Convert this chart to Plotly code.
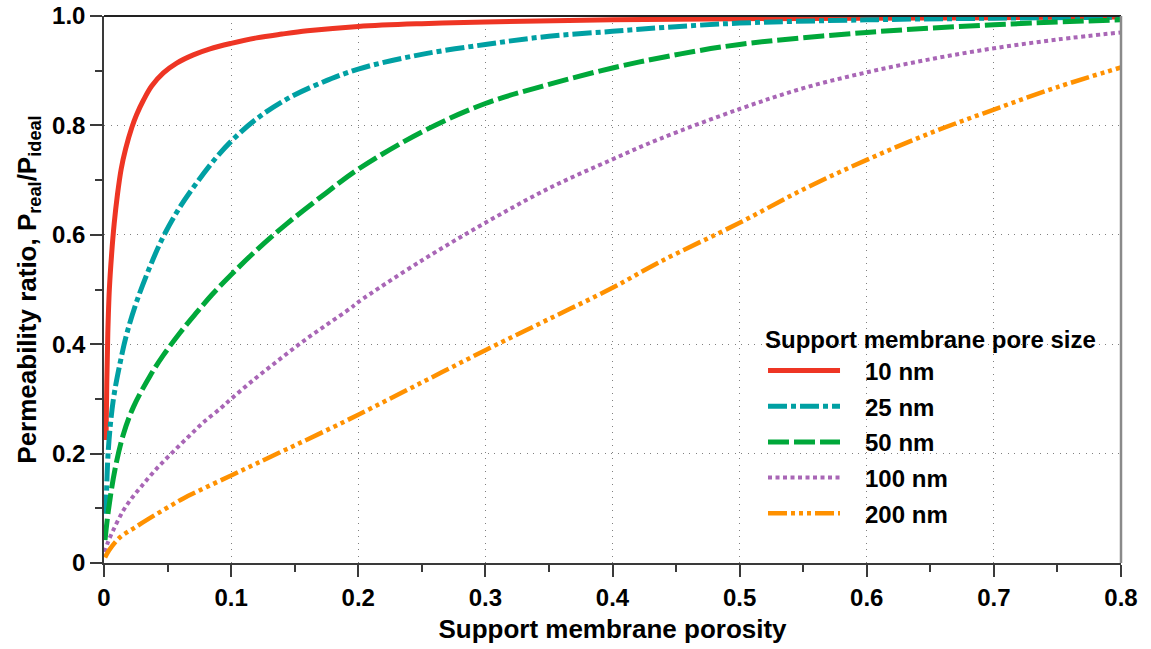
import plotly.graph_objects as go

# ---------------- data ----------------
pore_sizes = ["10 nm", "25 nm", "50 nm", "100 nm", "200 nm"]

porosity_10nm = [0.0016, 0.0022, 0.003, 0.0042, 0.006, 0.008, 0.0105, 0.0135, 0.017,
                 0.022, 0.0257, 0.031, 0.0375, 0.0467, 0.0572, 0.0703, 0.0834, 0.1,
                 0.12, 0.14, 0.16, 0.2, 0.25, 0.3, 0.4, 0.5, 0.6, 0.7, 0.8]
ratio_10nm = [0.225, 0.33, 0.42, 0.50, 0.565, 0.62, 0.672, 0.72, 0.757,
              0.797, 0.82, 0.846, 0.872, 0.896, 0.914, 0.929, 0.94, 0.95,
              0.96, 0.967, 0.973, 0.981, 0.986, 0.989, 0.993, 0.995, 0.996, 0.997, 0.998]

porosity_25nm = [0.0016, 0.0034, 0.0073, 0.0126, 0.0178, 0.0257, 0.0362, 0.0467, 0.0598,
                 0.0729, 0.0886, 0.1018, 0.12, 0.1437, 0.17, 0.2, 0.248, 0.3, 0.35, 0.4,
                 0.44, 0.5, 0.6, 0.7, 0.8]
ratio_25nm = [0.09, 0.207, 0.298, 0.365, 0.418, 0.478, 0.542, 0.597, 0.651,
              0.695, 0.742, 0.775, 0.812, 0.848, 0.877, 0.903, 0.929, 0.948, 0.963, 0.972,
              0.979, 0.987, 0.993, 0.996, 0.998]

porosity_50nm = [0.0008, 0.0034, 0.0087, 0.0152, 0.0231, 0.0362, 0.0467, 0.0598, 0.0729,
                 0.0847, 0.1, 0.12, 0.1437, 0.175, 0.2, 0.25, 0.3, 0.35, 0.4, 0.445,
                 0.5, 0.6, 0.7, 0.8]
ratio_50nm = [0.042, 0.095, 0.172, 0.235, 0.285, 0.342, 0.38, 0.421, 0.458,
              0.49, 0.527, 0.572, 0.62, 0.677, 0.72, 0.788, 0.84, 0.875, 0.905, 0.927,
              0.948, 0.970, 0.984, 0.993]

porosity_100nm = [0.0008, 0.0026, 0.0073, 0.0152, 0.022, 0.0294, 0.0404, 0.0525, 0.0656,
                  0.0782, 0.0918, 0.1, 0.1183, 0.1369, 0.1553, 0.1741, 0.1935, 0.2, 0.25,
                  0.3, 0.35, 0.4, 0.4368, 0.5, 0.55, 0.6, 0.65, 0.7, 0.75, 0.8]
ratio_100nm = [0.02, 0.035, 0.06, 0.096, 0.119, 0.14, 0.17, 0.199, 0.229,
               0.257, 0.283, 0.30, 0.336, 0.37, 0.403, 0.434, 0.465, 0.477, 0.553,
               0.622, 0.685, 0.738, 0.775, 0.83, 0.868, 0.897, 0.921, 0.941, 0.957, 0.970]

porosity_200nm = [0.0008, 0.0042, 0.0126, 0.023, 0.036, 0.049, 0.0624, 0.0755, 0.1, 0.12,
                  0.1437, 0.17, 0.2, 0.25, 0.3, 0.35, 0.4, 0.4368, 0.5, 0.55, 0.6, 0.65,
                  0.7, 0.75, 0.8]
ratio_200nm = [0.01, 0.024, 0.047, 0.063, 0.082, 0.10, 0.118, 0.133, 0.16, 0.182,
               0.208, 0.237, 0.271, 0.33, 0.389, 0.446, 0.503, 0.55, 0.622, 0.683, 0.737, 0.786,
               0.829, 0.87, 0.906]

x_tick_values = [0, 0.1, 0.2, 0.3, 0.4, 0.5, 0.6, 0.7, 0.8]
x_tick_labels = ["0", "0.1", "0.2", "0.3", "0.4", "0.5", "0.6", "0.7", "0.8"]
y_tick_values = [0, 0.2, 0.4, 0.6, 0.8, 1.0]
y_tick_labels = ["0", "0.2", "0.4", "0.6", "0.8", "1.0"]

# ---------------- styles ----------------
colors = ["#EE3524", "#00A0A3", "#00A83A", "#A966B6", "#FF9100"]
dashes = ["solid", "19px,4px,5px,4px", "21px,5px", "4px,3.5px",
          "19px,4px,4px,4px,4px,4px,4px,4px"]
widths = [5, 5, 5, 4, 4.5]

FONT = "Liberation Sans, Arial, Helvetica, sans-serif"
PAD = "\u00a0\u00a0\u00a0"  # space between legend line and legend text

series_x = [porosity_10nm, porosity_25nm, porosity_50nm, porosity_100nm, porosity_200nm]
series_y = [ratio_10nm, ratio_25nm, ratio_50nm, ratio_100nm, ratio_200nm]

fig = go.Figure()
for i, name in enumerate(pore_sizes):
    fig.add_trace(go.Scatter(
        x=series_x[i], y=series_y[i], name=PAD + name, mode="lines",
        line=dict(color=colors[i], width=widths[i], dash=dashes[i], shape="spline", smoothing=1.0),
        legendgroup=name,
    ))

axis_common = dict(
    showline=True, linecolor="#3a3a3a", linewidth=1.5,
    ticks="outside", ticklen=12, tickwidth=1.5, tickcolor="#3a3a3a",
    tickfont=dict(family=FONT, size=24, color="black", weight="bold"),
    showgrid=True, gridcolor="#808080", gridwidth=1, griddash="1px,5.5px",
    zeroline=False, automargin=False,
)

fig.update_xaxes(
    range=[0, 0.8], tickmode="array", tickvals=x_tick_values, ticktext=x_tick_labels,
    minor=dict(dtick=0.05, tick0=0, ticks="outside", ticklen=7, tickwidth=1.5,
               tickcolor="#3a3a3a", showgrid=False),
    title=dict(text="Support membrane porosity",
               font=dict(family=FONT, size=26, color="black", weight="bold"), standoff=10),
    **axis_common,
)
fig.update_yaxes(
    range=[0, 1.0], tickmode="array", tickvals=y_tick_values, ticktext=y_tick_labels,
    minor=dict(dtick=0.1, tick0=0, ticks="outside", ticklen=7, tickwidth=1.5,
               tickcolor="#3a3a3a", showgrid=False),
    title=dict(text="Permeability ratio, P<sub>real</sub>/P<sub>ideal</sub>",
               font=dict(family=FONT, size=26, color="black", weight="bold"), standoff=8),
    **axis_common,
)

# plot frame: black top edge, grey right edge
fig.add_shape(type="line", xref="paper", yref="paper", x0=0, x1=1, y0=1, y1=1,
              line=dict(color="#222222", width=2))
fig.add_shape(type="line", xref="paper", yref="paper", x0=1, x1=1, y0=0, y1=1,
              line=dict(color="#8a8a8a", width=2.5))

fig.update_layout(
    width=1151, height=649,
    margin=dict(l=104, r=30, t=16, b=86, autoexpand=False),
    paper_bgcolor="white", plot_bgcolor="white",
    font=dict(family=FONT, color="black"),
    showlegend=True,
    legend=dict(
        title=dict(text="Support membrane pore size",
                   font=dict(family=FONT, size=24, color="black", weight="bold")),
        font=dict(family=FONT, size=24, color="black", weight="bold"),
        x=0.648, y=0.4494, xanchor="left", yanchor="top",
        bgcolor="rgba(0,0,0,0)", borderwidth=0,
        itemwidth=72, tracegroupgap=1.5,
    ),
)

fig.write_html("out.html", config={"displayModeBar": False},
               post_script="document.body.style.margin='0px';")
